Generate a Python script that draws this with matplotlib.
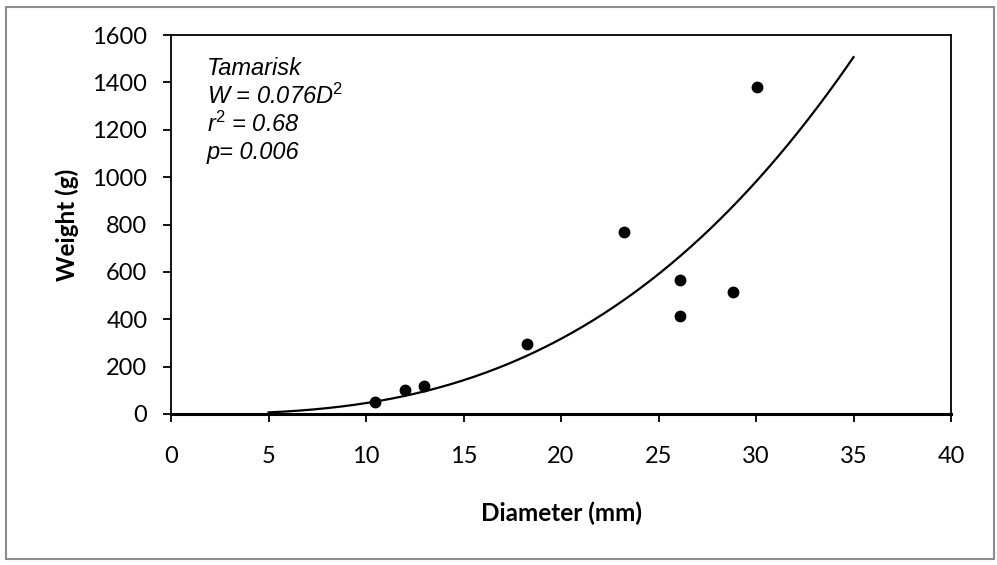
import matplotlib
matplotlib.use("Agg")
import matplotlib.pyplot as plt
import numpy as np
from matplotlib.patches import Rectangle

# measured tamarisk stems
diameter = [10.45, 12.0, 12.95, 18.25, 23.25, 26.1, 26.1, 28.8, 30.05]
weight = [50, 100, 118, 295, 767, 564, 412, 514, 1382]

# fitted power curve W = a * D^b
fit_a = 0.076
fit_b = 2.783
fit_start, fit_end = 5, 35

xticks = [0, 5, 10, 15, 20, 25, 30, 35, 40]
yticks = [0, 200, 400, 600, 800, 1000, 1200, 1400, 1600]

label_lines = ["Tamarisk", r"W = 0.076D$^{2}$", r"r$^{2}$ = 0.68", "p= 0.006"]

plt.rcParams['mathtext.fontset'] = 'custom'
plt.rcParams['mathtext.rm'] = 'Liberation Sans'
plt.rcParams['mathtext.it'] = 'Liberation Sans:italic'
plt.rcParams['mathtext.default'] = 'it'

fig = plt.figure(figsize=(9.97, 5.65), dpi=100)
ax = fig.add_axes([171/997, 1-414/565, (951-171)/997, (414-35)/565])

# outer frame of the chart
fig.patches.append(Rectangle((6/997, 1-559/565), 988/997, 552/565,
                             transform=fig.transFigure, fill=False,
                             edgecolor='#8c8c8c', linewidth=1.5))

dd = np.linspace(fit_start, fit_end, 300)
ax.plot(dd, fit_a*dd**fit_b, color='black', linewidth=1.6)
ax.plot(diameter, weight, 'o', color='black', markersize=7.5)

ax.set_xlim(0, 40)
ax.set_ylim(0, 1600)
ax.set_xticks(xticks)
ax.set_yticks(yticks)
ax.tick_params(direction='out', length=6, width=1.3, labelsize=17, pad=11)
for lab in ax.get_xticklabels() + ax.get_yticklabels():
    lab.set_fontfamily('Lato')
ax.tick_params(axis='x', pad=17)

for s in ax.spines.values():
    s.set_linewidth(1.3)
ax.spines['bottom'].set_linewidth(2.2)

ax.set_xlabel("Diameter (mm)", fontsize=17.5, fontweight='bold', family='Lato', labelpad=25)
ax.set_ylabel("Weight (g)", fontsize=17.5, fontweight='bold', family='Lato', labelpad=10)

ty = 68
for line in label_lines:
    fig.text(207/997, 1-ty/565, line, fontsize=17, style='italic',
             family='Liberation Sans', va='center', ha='left')
    ty += 28

fig.savefig("out.png", dpi=100)
